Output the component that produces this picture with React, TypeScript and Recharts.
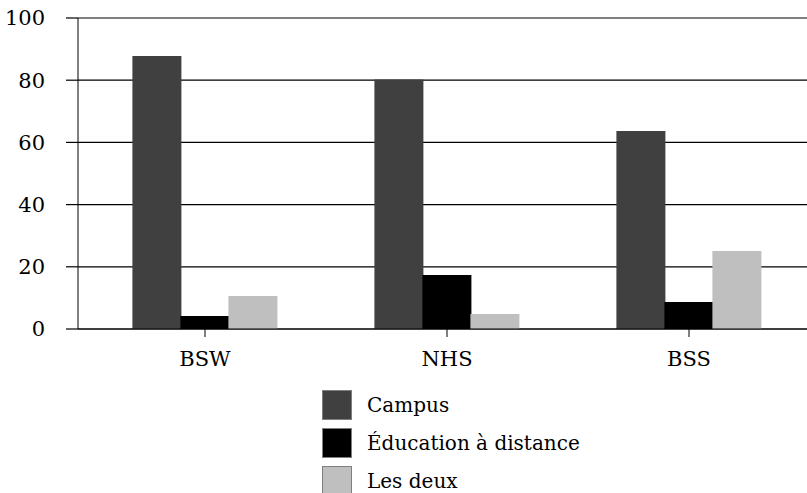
import { Bar, BarChart, CartesianGrid, XAxis, YAxis } from "recharts";

const categories = ["BSW", "NHS", "BSS"];
const campus = [87.8, 80.2, 63.7];
const distance = [4.2, 17.4, 8.7];
const both = [10.6, 4.8, 25.1];
const yTicks = [0, 20, 40, 60, 80, 100];

const series = [
  { key: "campus", name: "Campus", color: "#404040" },
  { key: "distance", name: "Éducation à distance", color: "#000000" },
  { key: "both", name: "Les deux", color: "#bfbfbf" },
];

const data = categories.map((c, i) => ({
  name: c,
  campus: campus[i],
  distance: distance[i],
  both: both[i],
}));

const font = "DejaVu Serif";

export default function App() {
  return (
    <div style={{ position: "absolute", left: 0, top: 0, width: 807, height: 493, overflow: "hidden", fontFamily: font }}>
      <BarChart
        width={812}
        height={493}
        data={data}
        margin={{ top: 18, right: 2, left: 0, bottom: 120 }}
        barCategoryGap="20%"
        barGap={-1}
      >
        <CartesianGrid vertical={false} stroke="#000" strokeWidth={1.2} />
        <XAxis
          dataKey="name"
          height={44}
          padding={{ left: 6, right: 0 }}
          axisLine={{ stroke: "#000", strokeWidth: 1.2 }}
          tickLine={{ stroke: "#000" }}
          tickSize={8}
          tickMargin={14}
          tick={{ fill: "#000", fontSize: 21, fontFamily: font }}
        />
        <YAxis
          width={78}
          domain={[0, 100]}
          ticks={yTicks}
          interval={0}
          axisLine={{ stroke: "#000", strokeWidth: 1 }}
          tickLine={{ stroke: "#000", strokeWidth: 1.2 }}
          tickSize={12}
          tickMargin={21}
          tick={{ fill: "#000", fontSize: 21, fontFamily: font }}
        />
        {series.map((s) => (
          <Bar key={s.key} dataKey={s.key} name={s.name} fill={s.color} isAnimationActive={false} />
        ))}
      </BarChart>
      <div style={{ position: "absolute", left: 322, top: 386 }}>
        {series.map((s) => (
          <div key={s.key} style={{ display: "flex", alignItems: "center", height: 38 }}>
            <div
              style={{
                width: 28,
                height: 28,
                background: s.color,
                border: "1px solid #7f7f7f",
                marginRight: 15,
              }}
            />
            <span style={{ fontSize: 20, color: "#000", lineHeight: "28px" }}>{s.name}</span>
          </div>
        ))}
      </div>
    </div>
  );
}
